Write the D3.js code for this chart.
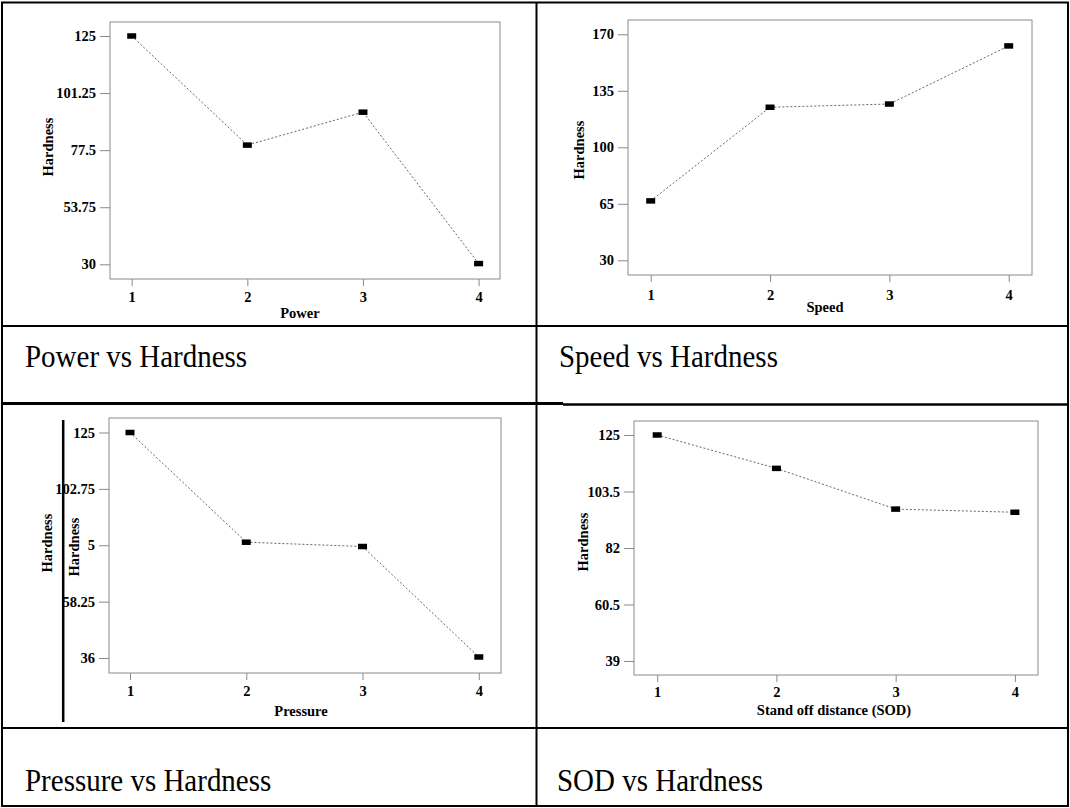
<!DOCTYPE html>
<html>
<head>
<meta charset="utf-8">
<script src="https://cdn.jsdelivr.net/npm/d3@7"></script>
<style>
  body { margin: 0; background: #fff; }
  svg { display: block; }
</style>
</head>
<body>
<div id="chart"></div>
<script>
const width = 1070;
const height = 808;

// factor levels on the x axis
const levels = [1, 2, 3, 4];

// hardness
const powerHardness = [125, 79.6, 93.3, 30.3];
const speedHardness = [66.8, 124.8, 126.8, 162.8];
const pressureHardness = [125, 81.7, 80.0, 36.4];
const sodHardness = [125, 112.3, 96.8, 95.6];

// y tick values of each plot
const powerTicks = [30, 53.75, 77.5, 101.25, 125];
const speedTicks = [30, 65, 100, 135, 170];
const pressureTicks = [36, 58.25, 80.5, 102.75, 125];
const sodTicks = [39, 60.5, 82, 103.5, 125];

const xTitles = ["Power", "Speed", "Pressure", "Stand off distance (SOD)"];
const yTitle = "Hardness";
const captions = ["Power vs Hardness", "Speed vs Hardness", "Pressure vs Hardness", "SOD vs Hardness"];

const svg = d3.select("#chart")
    .append("svg")
    .attr("width", width)
    .attr("height", height);

svg.append("rect").attr("width", width).attr("height", height).attr("fill", "#fff");

const axisFont = "'Liberation Serif', 'Times New Roman', serif";

// frame = plot box, x0/x4 = first/last tick, yLo/yHi = pixel rows of lowest/highest tick
const panels = [
    { values: powerHardness, ticks: powerTicks, frame: [110, 22, 500, 279], xr: [131.7, 478.6], yr: [264.3, 36], pad: 6, titleXY: [300, 313], hardXY: [47.8, 147] },
    { values: speedHardness, ticks: speedTicks, frame: [628, 20, 1032, 275], xr: [650.7, 1008.7], yr: [260.3, 34.3], pad: 8, titleXY: [825, 307], hardXY: [578.7, 150] },
    { values: pressureHardness, ticks: pressureTicks, frame: [109, 418, 501, 673], xr: [130, 478.8], yr: [658, 432.5], pad: 6, titleXY: [301, 711], hardXY: [74, 547] },
    { values: sodHardness, ticks: sodTicks, frame: [634, 421, 1038, 675], xr: [657.2, 1014.9], yr: [661, 435], pad: 5, titleXY: [834, 710], hardXY: [582.8, 542] }
];

panels.forEach((p, i) => {
    const g = svg.append("g");
    const [fx0, fy0, fx1, fy1] = p.frame;

    const xScale = d3.scaleLinear().domain([1, 4]).range(p.xr);
    const yScale = d3.scaleLinear().domain(d3.extent(p.ticks)).range(p.yr);

    g.append("rect")
        .attr("x", fx0).attr("y", fy0)
        .attr("width", fx1 - fx0).attr("height", fy1 - fy0)
        .attr("fill", "none")
        .attr("stroke", "#8a8a8a");

    const yAxis = g.append("g")
        .attr("transform", `translate(${fx0}, 0)`)
        .call(d3.axisLeft(yScale).tickValues(p.ticks).tickSize(10).tickPadding(4).tickFormat(d => String(d)));

    const xAxis = g.append("g")
        .attr("transform", `translate(0, ${fy1})`)
        .call(d3.axisBottom(xScale).tickValues(levels).tickSize(7).tickPadding(p.pad).tickFormat(d3.format("d")));

    [yAxis, xAxis].forEach(a => {
        a.select(".domain").remove();
        a.selectAll("line").attr("stroke", "#8a8a8a");
        a.selectAll("text")
            .attr("fill", "#000")
            .style("font-family", axisFont)
            .style("font-weight", "bold")
            .style("font-size", "14.5px");
    });

    const line = d3.line()
        .x((d, j) => xScale(levels[j]))
        .y(d => yScale(d));

    g.append("path")
        .datum(p.values)
        .attr("d", line)
        .attr("fill", "none")
        .attr("stroke", "#555")
        .attr("stroke-width", 0.9)
        .attr("stroke-dasharray", "2,2");

    g.selectAll("rect.marker")
        .data(p.values)
        .enter()
        .append("rect")
        .attr("class", "marker")
        .attr("x", (d, j) => xScale(levels[j]) - 4.5)
        .attr("y", d => yScale(d) - 2.75)
        .attr("width", 9)
        .attr("height", 5.5)
        .attr("fill", "#000");

    g.append("text")
        .attr("x", p.titleXY[0])
        .attr("y", p.titleXY[1])
        .attr("text-anchor", "middle")
        .attr("dominant-baseline", "central")
        .style("font-family", axisFont)
        .style("font-weight", "bold")
        .style("font-size", "14.5px")
        .text(xTitles[i]);

    if (i === 2) {
        // stray copy of the label left in the source document
        g.append("text")
            .attr("transform", "translate(46.7, 543) rotate(-90)")
            .attr("text-anchor", "middle")
            .attr("dominant-baseline", "central")
            .style("font-family", axisFont)
            .style("font-weight", "bold")
            .style("font-size", "14.5px")
            .text(yTitle);
        g.append("rect")
            .attr("x", 64.5).attr("y", 515)
            .attr("width", 23.5).attr("height", 63)
            .attr("fill", "#fff");
        g.append("line")
            .attr("x1", 63.2).attr("x2", 63.2)
            .attr("y1", 420).attr("y2", 722)
            .attr("stroke", "#000")
            .attr("stroke-width", 2.5);
    }

    g.append("text")
        .attr("transform", `translate(${p.hardXY[0]}, ${p.hardXY[1]}) rotate(-90)`)
        .attr("text-anchor", "middle")
        .attr("dominant-baseline", "central")
        .style("font-family", axisFont)
        .style("font-weight", "bold")
        .style("font-size", "14.5px")
        .text(yTitle);
});

// captions under each plot
const captionPos = [[25, 367], [559, 367], [25, 791], [557, 791]];
captions.forEach((c, i) => {
    svg.append("text")
        .attr("transform", `translate(${captionPos[i][0]}, ${captionPos[i][1]}) scale(1, 1.12)`)
        .style("font-family", axisFont)
        .style("font-size", "29px")
        .attr("fill", "#000")
        .text(c);
});

// table grid
const grid = svg.append("g").attr("stroke", "#000").attr("fill", "none");
grid.append("rect").attr("x", 2).attr("y", 2.5).attr("width", 1066).attr("height", 803.5).attr("stroke-width", 2);
grid.append("line").attr("x1", 536.5).attr("x2", 536.5).attr("y1", 2).attr("y2", 806).attr("stroke-width", 2);
grid.append("line").attr("x1", 2).attr("x2", 1068).attr("y1", 326).attr("y2", 326).attr("stroke-width", 2);
grid.append("line").attr("x1", 2).attr("x2", 563).attr("y1", 403.5).attr("y2", 403.5).attr("stroke-width", 3);
grid.append("line").attr("x1", 563).attr("x2", 1068).attr("y1", 404.5).attr("y2", 404.5).attr("stroke-width", 2.5);
grid.append("line").attr("x1", 2).attr("x2", 1068).attr("y1", 728).attr("y2", 728).attr("stroke-width", 2);
</script>
</body>
</html>
